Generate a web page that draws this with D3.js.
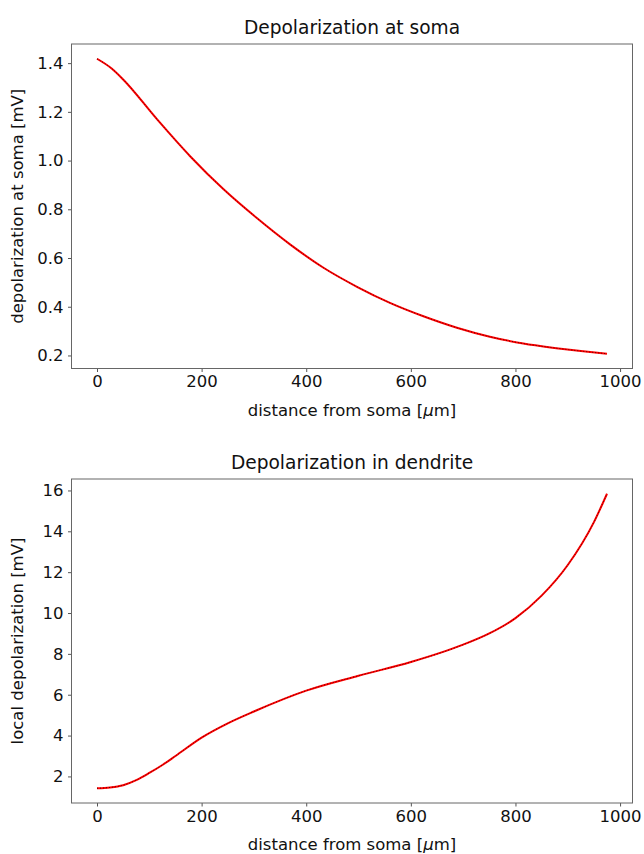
<!DOCTYPE html>
<html>
<head>
<meta charset="utf-8">
<script src="https://cdn.jsdelivr.net/npm/d3@7"></script>
<style>
  body { margin: 0; background: #fff; }
  svg text { font-family: "DejaVu Sans", sans-serif; fill: #111; }
</style>
</head>
<body>
<svg id="chart" width="644" height="854"></svg>
<script>
// distance from soma in um
const somaDist = [0, 28, 50, 115, 178, 242, 305, 369, 433, 497, 560, 624, 688, 751, 815, 878, 925, 975];
const somaDepol = [1.418, 1.378, 1.333, 1.169, 1.018, 0.882, 0.765, 0.656, 0.560, 0.482, 0.416, 0.361, 0.314, 0.277, 0.249, 0.230, 0.218, 0.207];

const dendDist = [0, 25, 50, 75, 100, 125, 150, 200, 250, 300, 400, 500, 600, 700, 750, 800, 850, 900, 950, 975];
const dendDepol = [1.42, 1.46, 1.57, 1.82, 2.17, 2.56, 3.0, 3.9, 4.6, 5.18, 6.2, 6.93, 7.6, 8.45, 9.0, 9.75, 10.85, 12.35, 14.45, 15.84];

const xTicks = [0, 200, 400, 600, 800, 1000];
const somaTicks = [0.2, 0.4, 0.6, 0.8, 1.0, 1.2, 1.4];
const dendTicks = [2, 4, 6, 8, 10, 12, 14, 16];

const svg = d3.select('#chart');

function pad(ext) {
  const m = (ext[1] - ext[0]) * 0.05;
  return [ext[0] - m, ext[1] + m];
}

function panel(opts) {
  const { top, bottom, xs, ys, yTicks, yFmt, title, ylabel } = opts;
  const left = 71.5, right = 632.5;

  const x = d3.scaleLinear().domain(pad(d3.extent(xs))).range([left, right]);
  const y = d3.scaleLinear().domain(pad(d3.extent(ys))).range([bottom, top]);

  const g = svg.append('g');

  // axes
  const xa = g.append('g').attr('transform', `translate(0,${bottom})`)
    .call(d3.axisBottom(x).tickValues(xTicks).tickSize(3.5).tickPadding(3.5).tickFormat(d3.format('d')));
  const ya = g.append('g').attr('transform', `translate(${left},0)`)
    .call(d3.axisLeft(y).tickValues(yTicks).tickSize(3.5).tickPadding(4.5).tickFormat(yFmt));

  [xa, ya].forEach(a => {
    a.select('.domain').remove();
    a.selectAll('line').attr('stroke', '#555');
    a.selectAll('text').style('font-size', '16.5px').attr('fill', '#111');
  });

  g.append('rect')
    .attr('x', left).attr('y', top)
    .attr('width', right - left).attr('height', bottom - top)
    .attr('fill', 'none').attr('stroke', '#666').attr('stroke-width', 1);

  const pts = xs.map((d, i) => [d, ys[i]]);
  const line = d3.line().x(d => x(d[0])).y(d => y(d[1])).curve(d3.curveMonotoneX);

  g.append('path').datum(pts).attr('d', line)
    .attr('fill', 'none').attr('stroke', '#ff0000').attr('stroke-width', 2);
  g.append('path').datum(pts).attr('d', line)
    .attr('fill', 'none').attr('stroke', '#400000').attr('stroke-width', 1)
    .attr('stroke-dasharray', '1,2').attr('opacity', 0.85);

  // titles and labels
  const cx = (left + right) / 2;
  g.append('text').attr('x', cx).attr('y', top - 10)
    .attr('text-anchor', 'middle').style('font-size', '18.6px').text(title);

  const xl = g.append('text').attr('x', cx).attr('y', bottom + 47)
    .attr('text-anchor', 'middle').style('font-size', '16.5px');
  xl.append('tspan').text('distance from soma [');
  xl.append('tspan').style('font-style', 'italic').text('μ');
  xl.append('tspan').text('m]');

  g.append('text')
    .attr('transform', `translate(23,${(top + bottom) / 2}) rotate(-90)`)
    .attr('text-anchor', 'middle').style('font-size', '16.5px').text(ylabel);
}

panel({
  top: 44, bottom: 368.5,
  xs: somaDist, ys: somaDepol,
  yTicks: somaTicks, yFmt: d3.format('.1f'),
  title: 'Depolarization at soma',
  ylabel: 'depolarization at soma [mV]'
});

panel({
  top: 479, bottom: 803,
  xs: dendDist, ys: dendDepol,
  yTicks: dendTicks, yFmt: d3.format('d'),
  title: 'Depolarization in dendrite',
  ylabel: 'local depolarization [mV]'
});
</script>
</body>
</html>
